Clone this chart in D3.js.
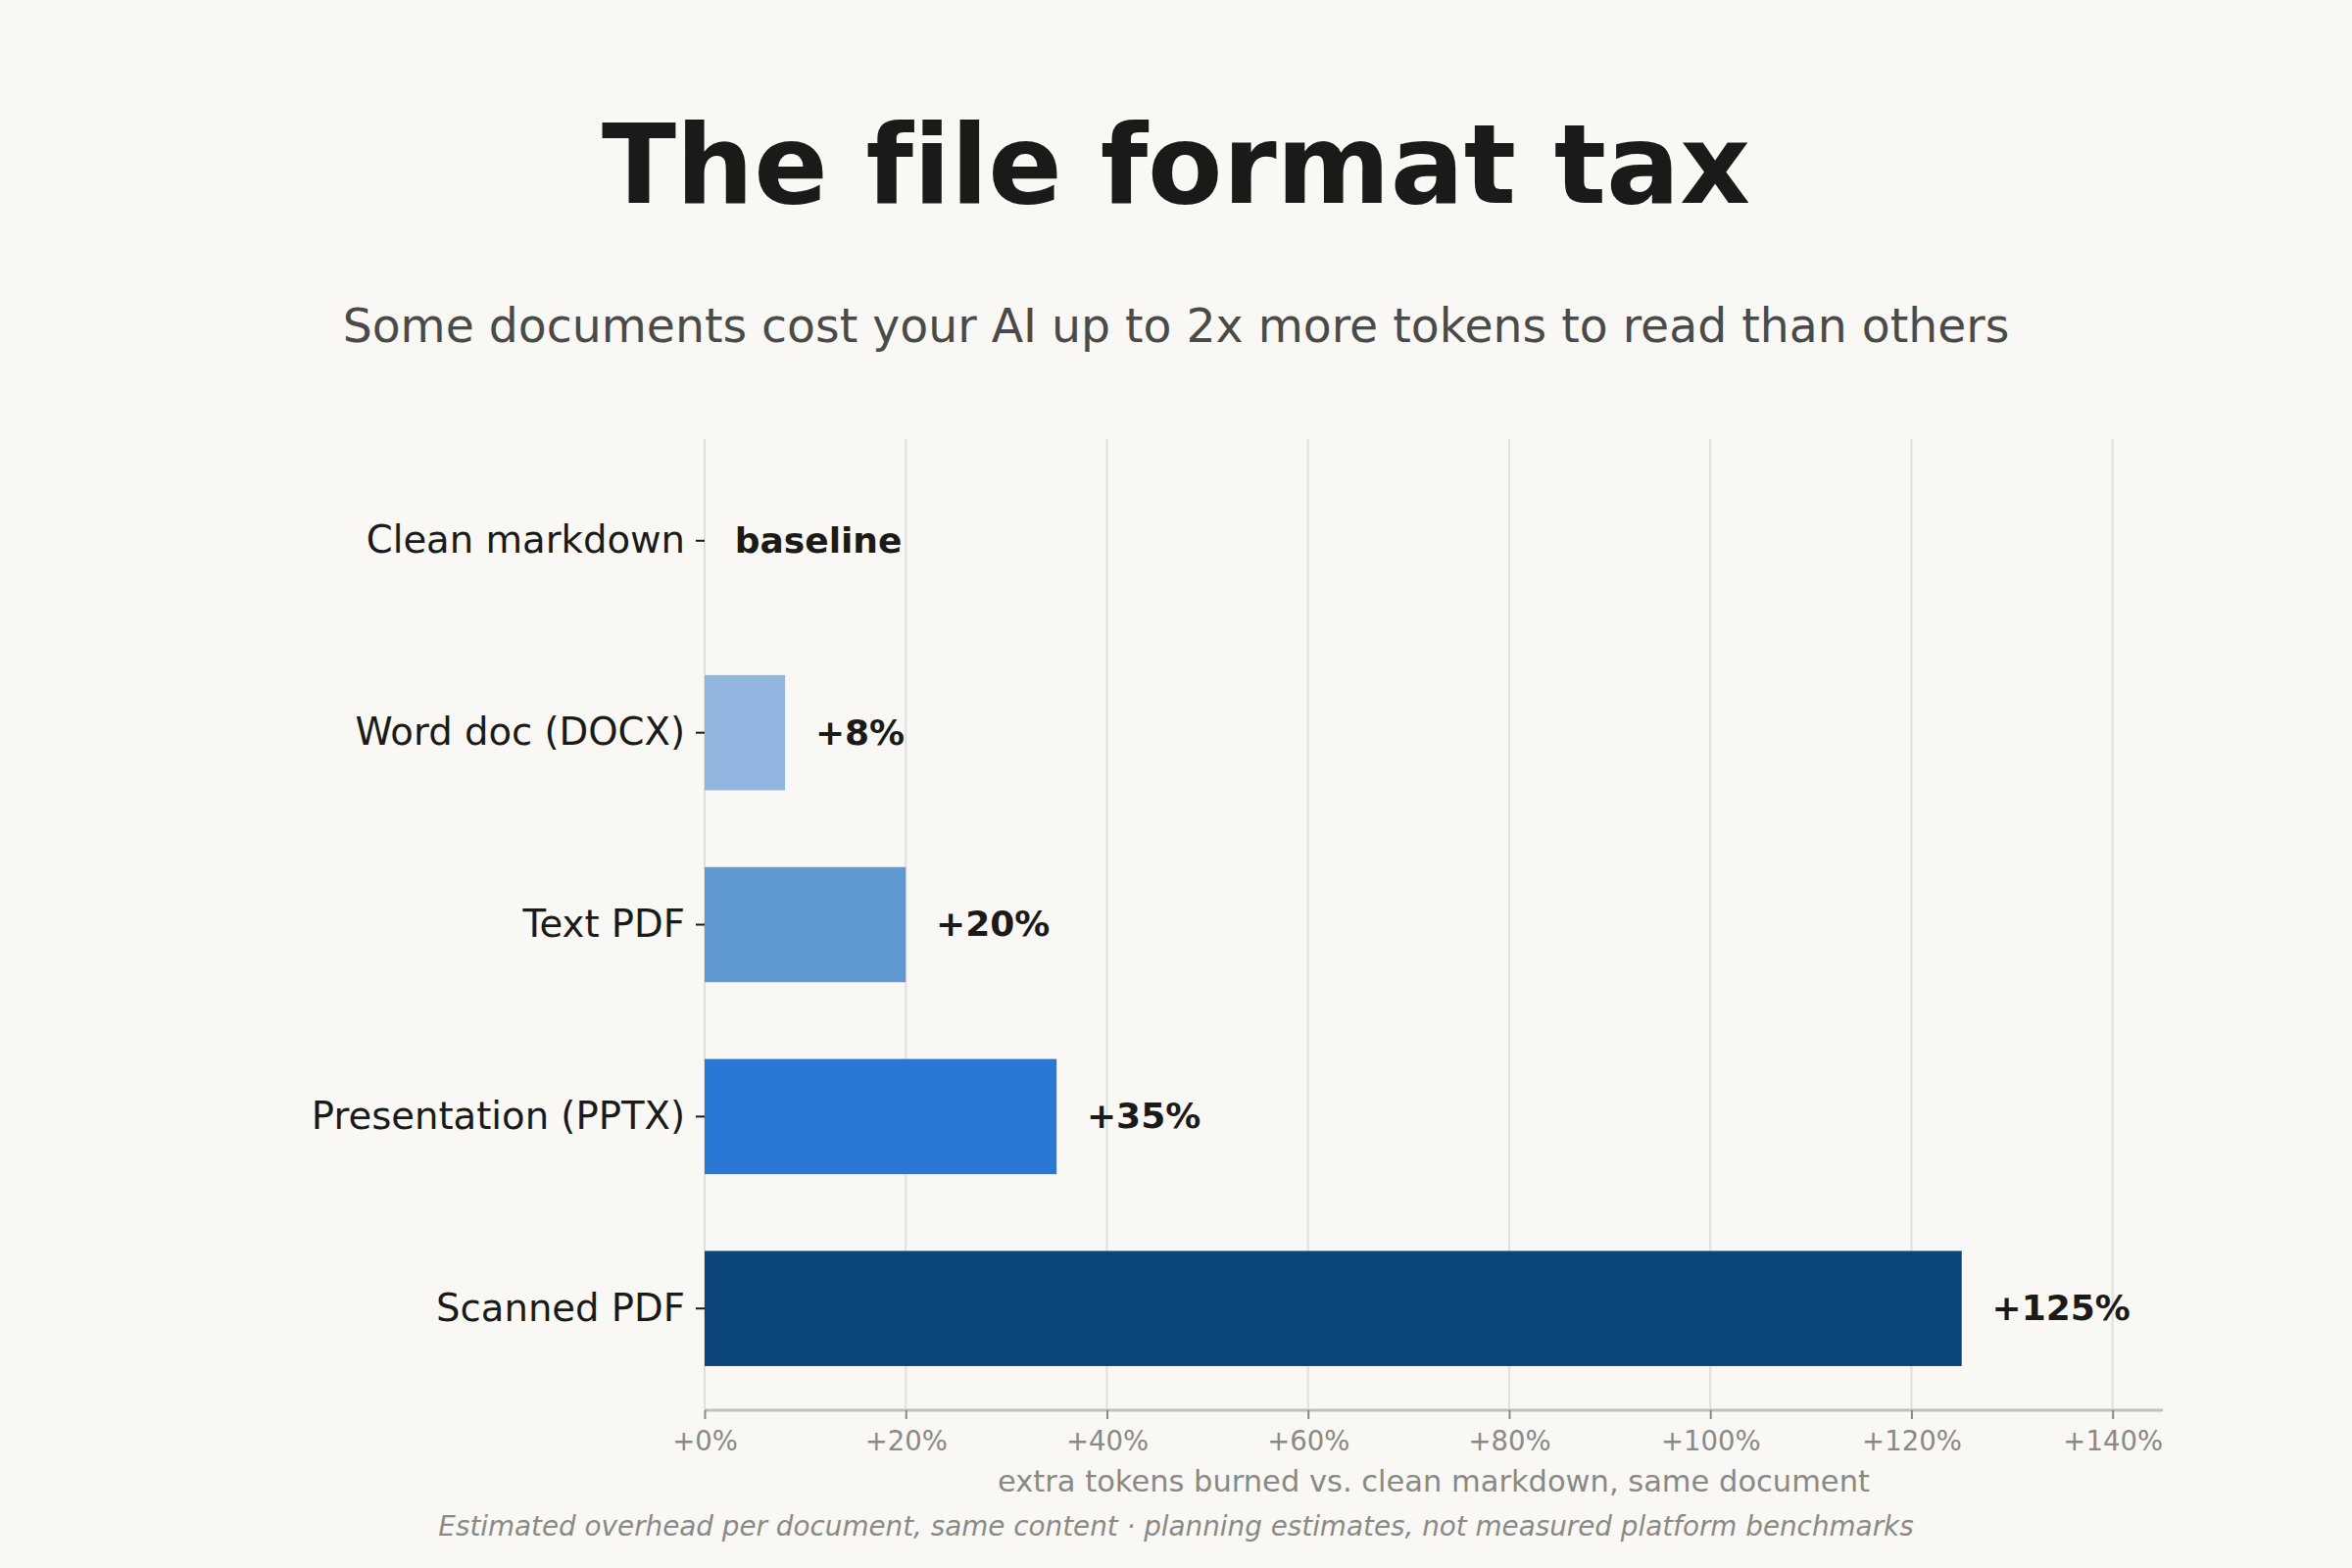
<!DOCTYPE html>
<html>
<head>
<meta charset="utf-8">
<script src="https://cdn.jsdelivr.net/npm/d3@7"></script>
<style>
  html, body { margin: 0; padding: 0; background: #f9f8f4; }
  svg { display: block; font-family: "DejaVu Sans", sans-serif; font-variant-ligatures: none; }
</style>
</head>
<body>
<div id="chart"></div>
<script>
const categories = ["Clean markdown", "Word doc (DOCX)", "Text PDF", "Presentation (PPTX)", "Scanned PDF"];
const overhead = [0, 8, 20, 35, 125];
const valueLabels = ["baseline", "+8%", "+20%", "+35%", "+125%"];
const barColors = ["#f9f8f4", "#92b5e0", "#6098d2", "#2a78d5", "#0c457b"];
const xTicks = [0, 20, 40, 60, 80, 100, 120, 140];

const width = 2400, height = 1600;
const margin = { top: 448, right: 193, bottom: 161, left: 719 };

const svg = d3.select("#chart")
    .append("svg")
    .attr("width", width)
    .attr("height", height);

svg.append("rect").attr("width", width).attr("height", height).attr("fill", "#f9f8f4");

const x = d3.scaleLinear()
    .domain([0, 145])
    .range([margin.left, width - margin.right]);

const y = d3.scaleBand()
    .domain(categories)
    .range([margin.top, height - margin.bottom])
    .paddingInner(0.4)
    .paddingOuter(0.23);

// gridlines
svg.append("g")
    .selectAll("line")
    .data(xTicks)
    .join("line")
    .attr("x1", d => x(d)).attr("x2", d => x(d))
    .attr("y1", margin.top).attr("y2", height - margin.bottom)
    .attr("stroke", "#e2e0da")
    .attr("stroke-width", 2);

// bars
svg.append("g")
    .selectAll("rect")
    .data(categories)
    .join("rect")
    .attr("x", x(0))
    .attr("y", d => y(d))
    .attr("width", (d, i) => x(overhead[i]) - x(0))
    .attr("height", y.bandwidth())
    .attr("fill", (d, i) => barColors[i]);

// value labels
svg.append("g")
    .selectAll("text")
    .data(categories)
    .join("text")
    .attr("x", (d, i) => x(overhead[i] + 3))
    .attr("y", d => y(d) + y.bandwidth() / 2)
    .attr("dy", "0.33em")
    .attr("font-size", 36)
    .attr("font-weight", "bold")
    .attr("fill", "#1a1a18")
    .text((d, i) => valueLabels[i]);

// x axis
const xAxis = svg.append("g")
    .attr("transform", `translate(0,${height - margin.bottom})`)
    .call(d3.axisBottom(x).tickValues(xTicks).tickFormat(d => `+${d}%`).tickSize(9).tickPadding(12));
xAxis.select(".domain").attr("stroke", "#c2c0b8").attr("stroke-width", 3)
    .attr("d", `M${x(0)},0H${width - margin.right}`);
xAxis.selectAll(".tick line").attr("stroke", "#8a8984").attr("stroke-width", 2);
xAxis.selectAll(".tick text")
    .attr("font-family", "DejaVu Sans")
    .attr("font-size", 27.5)
    .attr("fill", "#8a8984");

// y axis
const yAxis = svg.append("g")
    .attr("transform", `translate(${margin.left},0)`)
    .call(d3.axisLeft(y).tickSize(9).tickPadding(11));
yAxis.select(".domain").remove();
yAxis.selectAll(".tick line").attr("stroke", "#1a1a18").attr("stroke-width", 2);
yAxis.selectAll(".tick text")
    .attr("font-family", "DejaVu Sans")
    .attr("font-size", 38.6)
    .attr("fill", "#1a1a18");

// titles
svg.append("text")
    .attr("x", width / 2).attr("y", 207)
    .attr("text-anchor", "middle")
    .attr("font-size", 111.4)
    .attr("font-weight", "bold")
    .attr("fill", "#1a1a18")
    .text("The file format tax");

svg.append("text")
    .attr("x", width / 2).attr("y", 349)
    .attr("text-anchor", "middle")
    .attr("font-size", 47.3)
    .attr("fill", "#4a4a48")
    .text("Some documents cost your AI up to 2x more tokens to read than others");

svg.append("text")
    .attr("x", (x(0) + width - margin.right) / 2).attr("y", 1522)
    .attr("text-anchor", "middle")
    .attr("font-size", 30.5)
    .attr("fill", "#8a8984")
    .text("extra tokens burned vs. clean markdown, same document");

svg.append("text")
    .attr("x", width / 2).attr("y", 1567)
    .attr("text-anchor", "middle")
    .attr("font-size", 27.8)
    .attr("font-style", "italic")
    .attr("fill", "#8a8984")
    .text("Estimated overhead per document, same content · planning estimates, not measured platform benchmarks");
</script>
</body>
</html>
